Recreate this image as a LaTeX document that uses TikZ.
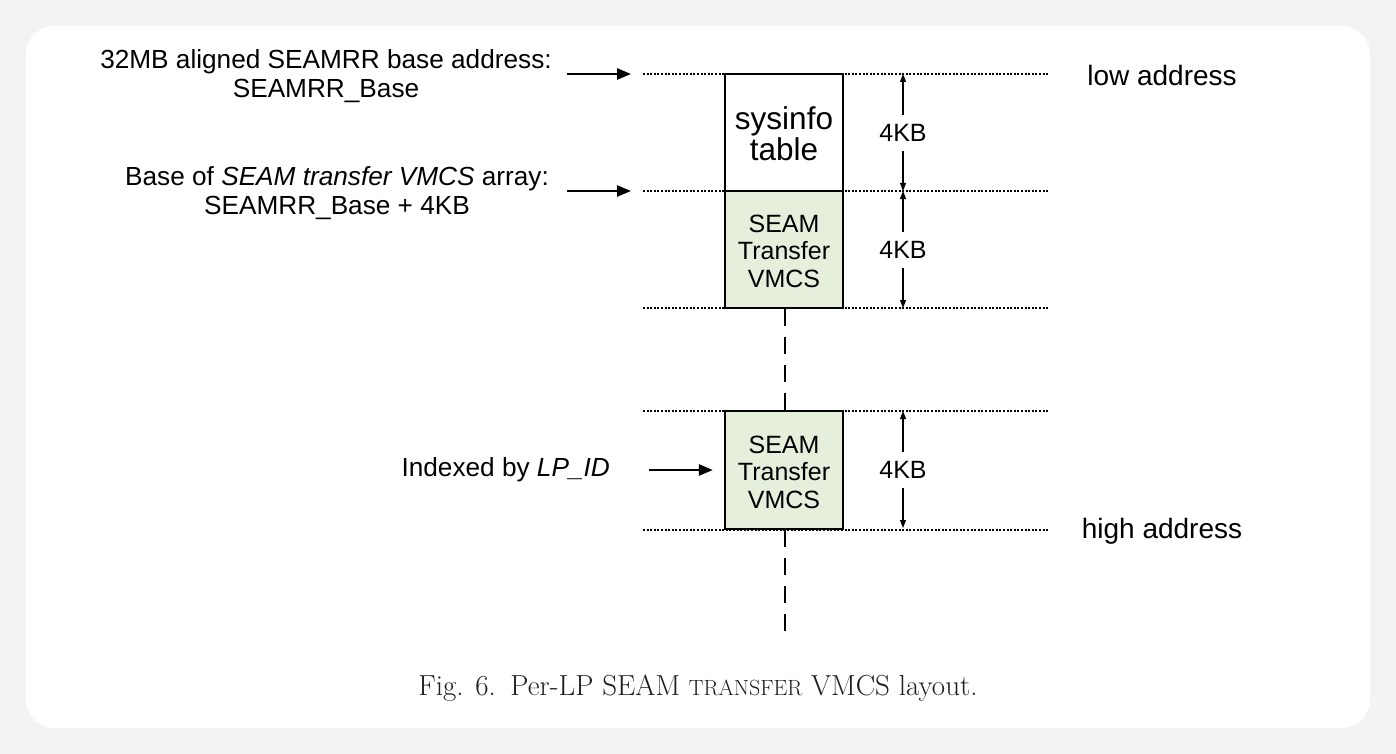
\documentclass[tikz,border=0pt]{standalone}
\usepackage{fontspec}
\newfontfamily\arial{Liberation Sans}
\usetikzlibrary{arrows.meta}
\definecolor{bgg}{HTML}{F3F3F3}
\definecolor{boxgreen}{HTML}{E5EFDC}
\definecolor{captxt}{HTML}{1E1E1E}
\newcommand{\fakesc}[1]{{\fontsize{22}{22}\selectfont #1}}
\tikzset{
  lbl/.style={font=\arial\fontsize{26.2}{29.5}\selectfont, align=center, inner sep=0pt},
  boxtxt/.style={font=\arial\fontsize{25}{27.5}\selectfont, align=center, inner sep=0pt},
  memline/.style={line width=2pt, dash pattern=on 2pt off 1.6pt},
  blk/.style={draw=black, line width=2.2pt},
  ptr/.style={line width=2.5pt, -{Triangle[length=14pt,width=11pt]}},
  dimtip/.style={line width=1.1pt, -{Triangle[length=8pt,width=6pt]}},
  vdash/.style={line width=2.4pt, dash pattern=on 17pt off 11pt},
}
\begin{document}
\begin{tikzpicture}[x=1pt,y=-1pt]
\useasboundingbox (0,0) rectangle (1396,754);
\fill[bgg] (0,0) rectangle (1396,754);
\fill[white, rounded corners=28pt] (26,26) rectangle (1370,728);

% memory boundary lines
\foreach \yy/\nm in {74/l1,191/l2,308/l3,411/l4,530/l5}{
  \coordinate (\nm a) at (643,\yy);
  \coordinate (\nm b) at (1048,\yy);
  \draw[memline] (\nm a) -- (\nm b);
}

% blocks
\node[blk, fill=white, minimum width=118pt, minimum height=117pt, inner sep=0pt] (sys) at (784,132.5) {};
\node[boxtxt, font=\arial\fontsize{31.5}{31}\selectfont] at (784,134) {sysinfo\\table};
\node[blk, fill=boxgreen, minimum width=118pt, minimum height=117pt, inner sep=0pt] (v1) at (784,249.5) {};
\node[boxtxt] at (784,251) {SEAM\\Transfer\\VMCS};
\node[blk, fill=boxgreen, minimum width=118pt, minimum height=118pt, inner sep=0pt] (v2) at (784,470) {};
\node[boxtxt] at (784,472) {SEAM\\Transfer\\VMCS};

% dashed continuation
\coordinate (d1) at (785,411);
\coordinate (d2) at (785,635);
\draw[vdash] (v1.south -| d1) -- (v2.north -| d1);
\draw[vdash] (v2.south -| d1) -- (d2);

% dimension arrows
\coordinate (m1) at (903,74);
\coordinate (m2) at (903,191);
\coordinate (m3) at (903,308);
\coordinate (m4) at (903,411);
\coordinate (m5) at (903,528);
\node[boxtxt, fill=white, inner ysep=9pt] (k1) at (903,133) {4KB};
\node[boxtxt, fill=white, inner ysep=9pt] (k2) at (903,250) {4KB};
\node[boxtxt, fill=white, inner ysep=9pt] (k3) at (903,470) {4KB};
\draw[dimtip] (k1.north) -- (m1);
\draw[dimtip] (k1.south) -- (m2);
\draw[dimtip] (k2.north) -- (m2);
\draw[dimtip] (k2.south) -- (m3);
\draw[dimtip] (k3.north) -- (m4);
\draw[dimtip] (k3.south) -- (m5);

% left labels
\node[lbl] (t1) at (326,76) {32MB aligned SEAMRR base address:\\SEAMRR\_Base};
\node[lbl] (t2) at (337,193) {Base of \textit{SEAM transfer VMCS} array:\\SEAMRR\_Base + 4KB};
\node[lbl, anchor=east] (t3) at (610,470) {Indexed by \textit{LP\_ID}};
\coordinate (p1s) at (567,74);
\coordinate (p1e) at (631,74);
\coordinate (p2s) at (567,191);
\coordinate (p2e) at (631,191);
\coordinate (p3s) at (649,470);
\draw[ptr] (p1s) -- (p1e);
\draw[ptr] (p2s) -- (p2e);
\draw[ptr, shorten >=11pt] (p3s) -- (v2.west);

% right labels
\node[lbl, font=\arial\fontsize{28}{28}\selectfont] (lo) at (1162,75) {low address};
\node[lbl, font=\arial\fontsize{28}{28}\selectfont] (hi) at (1162,531) {high address};

% caption
\node[inner sep=0pt, text=captxt, font=\fontsize{29}{32}\selectfont] (cap) at (698,688) {Fig. 6.\enspace Per-LP SEAM \fakesc{TRANSFER} VMCS layout.};
\end{tikzpicture}
\end{document}
